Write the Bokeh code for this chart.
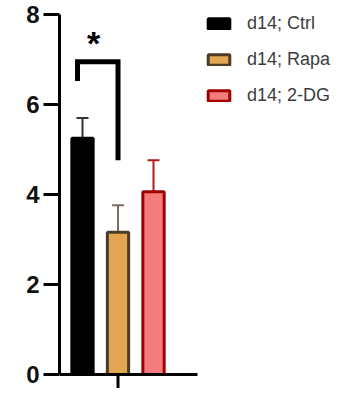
from bokeh.plotting import figure
from bokeh.models import (Range1d, FixedTicker, Legend, LegendItem, ColumnDataSource,
                          Whisker, TeeHead)
from bokeh.core.properties import value
from bokeh.embed import file_html
from bokeh.resources import INLINE

# ---- data ----
categories = ["d14; Ctrl", "d14; Rapa", "d14; 2-DG"]
positions = [1, 2, 3]
means = [5.25, 3.16, 4.06]
sem = [0.45, 0.60, 0.70]
y_ticks = [0, 2, 4, 6, 8]
x_tick = [2]
# significance bracket (Ctrl vs Rapa)
bracket_x = [0.86, 0.86, 2.0, 2.0]
bracket_y = [6.52, 6.95, 6.95, 4.76]
star_label = "*"

fills = ["#000000", "#E2A552", "#F47C7C"]
borders = ["#000000", "#4A3C28", "#A00000"]
err_colors = ["#333333", "#7D6E5C", "#B01C1C"]

X0, X1 = 0.352, 8.042
Y0, Y1 = -0.311, 8
AXIS_END = 4.239

src = ColumnDataSource(dict(
    x=positions, top=means, fill=fills, line=borders,
    upper=[m + s for m, s in zip(means, sem)],
    lower=[m - s for m, s in zip(means, sem)],
    ecol=err_colors, label=categories,
))

p = figure(width=332, height=388, output_backend="svg", toolbar_location=None,
           x_range=Range1d(X0, X1), y_range=Range1d(Y0, Y1))
p.min_border_left = 59
p.min_border_top = 14
p.min_border_bottom = 0
p.min_border_right = 0
p.outline_line_color = None
p.xgrid.visible = False
p.ygrid.visible = False
p.xaxis.visible = False
p.background_fill_color = "white"
p.border_fill_color = "white"

bars = p.vbar(x="x", top="top", width=0.6, source=src, fill_color="fill",
              line_color="line", line_width=3)

w = Whisker(base="x", upper="upper", lower="lower", source=src,
            line_color="ecol", line_width=2,
            upper_head=TeeHead(size=12, line_color="ecol", line_width=2),
            lower_head=TeeHead(size=12, line_color="ecol", line_width=2))
p.add_layout(w)

# x axis line and its single tick
p.segment(x0=[X0], y0=[0], x1=[AXIS_END], y1=[0], line_color="black", line_width=3)
p.segment(x0=x_tick, y0=[0], x1=x_tick, y1=[Y0], line_color="black", line_width=3)

p.line(bracket_x, bracket_y, line_color="black", line_width=5, line_join="miter")
p.text(x=[(bracket_x[0] + bracket_x[2]) / 2 - 0.12], y=[7.37], text=[star_label],
       text_font=value("Liberation Sans"), text_font_style="bold",
       text_font_size="34px", text_align="center", text_baseline="alphabetic",
       text_color="black")

# y axis
ya = p.yaxis[0]
ya.bounds = (0, 8)
ya.ticker = FixedTicker(ticks=y_ticks)
ya.axis_line_width = 3
ya.major_tick_line_width = 3
ya.major_tick_out = 16
ya.major_tick_in = 0
ya.minor_tick_line_color = None
ya.major_label_text_font = "Liberation Sans"
ya.major_label_text_font_style = "bold"
ya.major_label_text_font_size = "24px"
ya.major_label_text_line_height = 1.0
ya.major_label_text_color = "#111111"
ya.major_label_standoff = 4

items = [LegendItem(label=categories[i], renderers=[bars], index=i) for i in range(3)]
legend = Legend(items=items, location=(146, 282), orientation="vertical",
                glyph_width=27, glyph_height=13, label_height=20, spacing=15,
                label_standoff=15, padding=0, margin=0,
                label_text_font="Liberation Sans", label_text_font_size="18px",
                label_text_color="#3C3C3C", border_line_color=None,
                background_fill_alpha=0)
p.add_layout(legend)

open("out.html", "w").write(file_html(p, INLINE))
